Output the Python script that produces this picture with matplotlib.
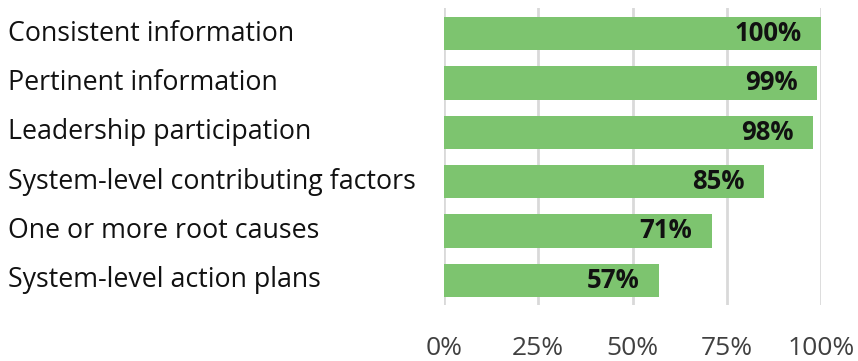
import matplotlib.pyplot as plt
from matplotlib.transforms import blended_transform_factory

categories = ['Consistent information', 'Pertinent information', 'Leadership participation',
              'System-level contributing factors', 'One or more root causes',
              'System-level action plans']
values = [100, 99, 98, 85, 71, 57]
ticks = [0, 25, 50, 75, 100]
tick_labels = ['0%', '25%', '50%', '75%', '100%']

plt.rcParams['font.family'] = ['Open Sans', 'DejaVu Sans']

fig = plt.figure(figsize=(8.58, 3.61), dpi=100)
ax = fig.add_axes([444 / 858, 1 - 305 / 361, 377 / 858, 297 / 361])

pos = list(range(len(categories)))
ax.barh(pos, values, height=0.67, color='#7DC46F', zorder=3)
ax.set_xlim(0, 100)
ax.set_ylim(5.5, -0.52)

ax.set_xticks(ticks)
ax.set_xticklabels(tick_labels, fontsize=19, color='#404040')
ax.tick_params(axis='x', length=0, pad=22)
ax.set_yticks([])
ax.grid(axis='x', color='#D9D9D9', linewidth=2, zorder=0)
for s in ax.spines.values():
    s.set_visible(False)

# category names flush with the left edge of the figure
trans = blended_transform_factory(fig.transFigure, ax.transData)
for p, name in zip(pos, categories):
    ax.text(8 / 858, p, name, transform=trans, ha='left', va='center',
            fontsize=19.3, color='#111111')

for p, v in zip(pos, values):
    ax.annotate(f'{v}%', (v, p), xytext=(-14, 0), textcoords='offset points',
                ha='right', va='center', fontsize=18.5, fontweight='bold', color='#111111',
                zorder=4)

fig.savefig('out.png', dpi=100)
